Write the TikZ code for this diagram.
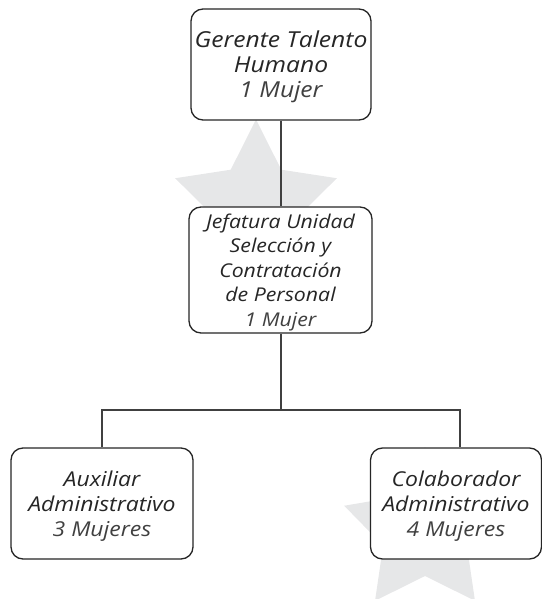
\documentclass[tikz,border=0pt]{standalone}
\usepackage{fontspec}
\setmainfont{Open Sans}[FakeStretch=1.12]
\begin{document}
\begin{tikzpicture}[x=1pt,y=1pt,
  box/.style={draw=black!85,line width=1.3pt,rounded corners=12pt,fill=white,
    align=center,inner sep=0pt,font=\itshape,text=black!85,text depth=-3pt},
  conn/.style={draw=black!75,line width=1.1pt},
  starfill/.style={fill=starg}]
\definecolor{starg}{HTML}{E6E7E8}
\useasboundingbox (0,0) rectangle (541,-599);
% background stars
\fill[starfill,shift={(256,-204.5)}] (90:85) -- (126:43) -- (162:85) -- (198:43) -- (234:85) -- (270:43) -- (306:85) -- (342:43) -- (18:85) -- (54:43) -- cycle;
\fill[starfill,shift={(425,-532)}] (90:85) -- (126:44) -- (162:85) -- (198:44) -- (234:85) -- (270:44) -- (306:85) -- (342:44) -- (18:85) -- (54:44) -- cycle;
% boxes
\node[box,minimum width=180pt,minimum height=111pt,font=\itshape\fontsize{22}{25}\selectfont] (top) at (281,-64.5)
  {Gerente Talento\\Humano\\{\color{black!75}1 Mujer}};
\node[box,minimum width=183pt,minimum height=126pt,font=\itshape\fontsize{19}{24.5}\selectfont] (mid) at (280.5,-270)
  {Jefatura Unidad\\Selección y\\Contratación\\de Personal\\{\color{black!75}1 Mujer}};
\node[box,minimum width=182pt,minimum height=111pt,font=\itshape\fontsize{20.5}{25}\selectfont] (left) at (102,-503.5)
  {Auxiliar\\Administrativo\\{\color{black!75}3 Mujeres}};
\node[box,minimum width=171pt,minimum height=111pt,font=\itshape\fontsize{20.5}{25}\selectfont] (right) at (456,-503.5)
  {Colaborador\\Administrativo\\{\color{black!75}4 Mujeres}};
% connectors
\coordinate (hm) at (281,-410);
\coordinate (hr) at (460,-410);
\draw[conn] (top.south) -- (top.south |- mid.north);
\draw[conn] (mid.south -| hm) -- (hm);
\draw[conn] (left.north) |- (hr) -- (hr |- right.north);
\end{tikzpicture}
\end{document}
